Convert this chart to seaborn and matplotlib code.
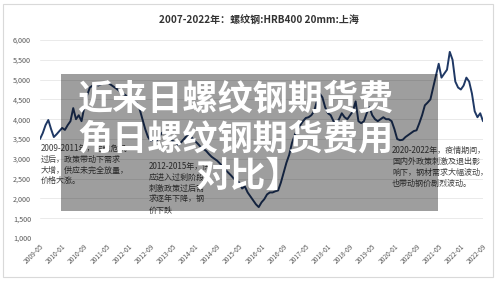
import matplotlib
matplotlib.use("Agg")
import matplotlib.pyplot as plt
from matplotlib.patches import Rectangle
import seaborn as sns
import pandas as pd
import numpy as np

# ---------------- data ----------------
prices = [
    3500, 3650, 3850, 3980, 3750, 3550, 3620, 3700, 3780, 3730,
    3850, 3950, 4280, 4000, 4100, 3950, 4300, 4600, 4800, 4850,
    4900, 4850, 4880, 4900, 4950, 4900, 4850, 4800, 4750, 4700,
    4650, 4600, 4550, 4500, 4450, 4400, 4250, 4000, 3750, 3550,
    3450, 3500, 3450, 3550, 3650, 3700, 3600, 3500, 3450, 3400,
    3350, 3420, 3500, 3580, 3600, 3520, 3450, 3380, 3300, 3250,
    3200, 3120, 3050, 3000, 2950, 2880, 2800, 2720, 2650, 2580,
    2500, 2450, 2400, 2250, 2300, 2150, 2050, 1950, 1850, 1780,
    1900, 1980, 2100, 2150, 2150, 2180, 2200, 2400, 2650, 2900,
    3100, 3400, 3600, 3750, 3850, 3950, 4030, 4050, 4100, 4200,
    4450, 4650, 4550, 4300, 4150, 4100, 3950, 3900, 4000, 4150,
    4050, 4000, 4100, 4200, 4450, 3950, 3900, 3950, 4150, 4300,
    4100, 4000, 3950, 4000, 4050, 4000, 4000, 3950, 3750, 3500,
    3470, 3480, 3550, 3600, 3650, 3700, 3720, 3900, 4100, 4350,
    4420, 4500, 4800, 5100, 5400, 5050, 5150, 5250, 5700, 5500,
    4950, 4800, 4750, 4850, 5050, 4950, 4650, 4200, 4050, 4150,
    3950,
]
tick_labels = ["2009-05", "2010-01", "2010-09", "2011-05", "2012-01", "2012-09",
               "2013-05", "2014-01", "2014-09", "2015-05", "2016-01", "2016-09",
               "2017-05", "2018-01", "2018-09", "2019-05", "2020-01", "2020-09",
               "2021-05", "2022-01", "2022-09"]
tick_step = 8
y_ticks = [1000, 1500, 2000, 2500, 3000, 3500, 4000, 4500, 5000, 5500, 6000]
y_tick_labels = ["1,000", "1,500", "2,000", "2,500", "3,000", "3,500",
                 "4,000", "4,500", "5,000", "5,500", "6,000"]

chart_title = "2007-2022年：螺纹钢:HRB400 20mm:上海"
overlay_lines = ["近来日螺纹钢期货费", "角日螺纹钢期货费用", "对比】"]
note1 = ["2009-2011年，金融危机", "过后，政策带动下需求", "大增，供应未完全放量，", "价格大涨。"]
note2 = ["2012-2015年，供", "应进入过剩阶段，", "刺激政策过后需", "求逐年下降，钢", "价下跌"]
note3 = ["2020-2022年，疫情期间，", "国内外政策刺激及退出影", "响下，钢材需求大幅波动，", "也带动钢价剧烈波动。"]

df = pd.DataFrame({"idx": np.arange(len(prices)), "price": prices})

# ---------------- figure ----------------
sns.set_style("white")
plt.rcParams["font.family"] = ["Noto Sans CJK SC", "DejaVu Sans"]

W, H = 500, 286
fig = plt.figure(figsize=(W / 100, H / 100), dpi=100)
fig.patch.set_facecolor("white")

def fx(x):
    return x / W

def fy(y):
    return 1 - y / H

ax = fig.add_axes([fx(40), fy(238), (483 - 40) / W, (238 - 40) / H])
sns.lineplot(data=df, x="idx", y="price", ax=ax, color="#1f3864", linewidth=1.4)

ax.set_xlim(0, len(prices) - 1)
ax.set_ylim(1000, 6000)
ax.set_yticks(y_ticks)
ax.set_yticklabels(y_tick_labels)
ax.set_xticks(np.arange(len(tick_labels)) * tick_step)
ax.set_xticklabels(tick_labels, rotation=45, ha="right", rotation_mode="anchor")
ax.tick_params(axis="y", labelsize=5.2, colors="#595959", length=0, pad=6.5)
ax.tick_params(axis="x", labelsize=4.8, colors="#595959", length=0, pad=3)
ax.set_xlabel("")
ax.set_ylabel("")
ax.grid(axis="y", color="#e6e6e6", linewidth=0.6)
ax.grid(axis="x", visible=False)
for s in ax.spines.values():
    s.set_visible(False)

# chart frame
fig.add_artist(Rectangle((fx(3), fy(277)), 490 / W, 273 / H, transform=fig.transFigure,
                         fill=False, edgecolor="#d9d9d9", linewidth=0.8, zorder=1))

# title
fig.text(fx(259), fy(21), chart_title, ha="center", va="center", fontsize=7.2,
         fontweight="bold", color="#333333")

# annotations
def notes(lines, x, ys):
    for t, y in zip(lines, ys):
        fig.text(fx(x), fy(y), t, ha="left", va="center", fontsize=5.8, color="#404040", zorder=3)

notes(note1, 41, [148, 159, 170, 180])
notes(note2, 149, [166, 177, 188, 199, 210])
notes(note3, 392, [150, 161, 172, 183])

# gray overlay box
fig.add_artist(Rectangle((fx(61), fy(211)), (438 - 61) / W, (211 - 74) / H,
                         transform=fig.transFigure, facecolor="black", alpha=0.38,
                         edgecolor="none", zorder=5))

# overlay title
for t, x, y in zip(overlay_lines, [77, 77, 196], [99, 139, 176]):
    fig.text(fx(x), fy(y), t, ha="left", va="center", fontsize=25.3,
             fontweight="black", color="white", zorder=6)

fig.savefig("out.png", dpi=100, facecolor="white")
